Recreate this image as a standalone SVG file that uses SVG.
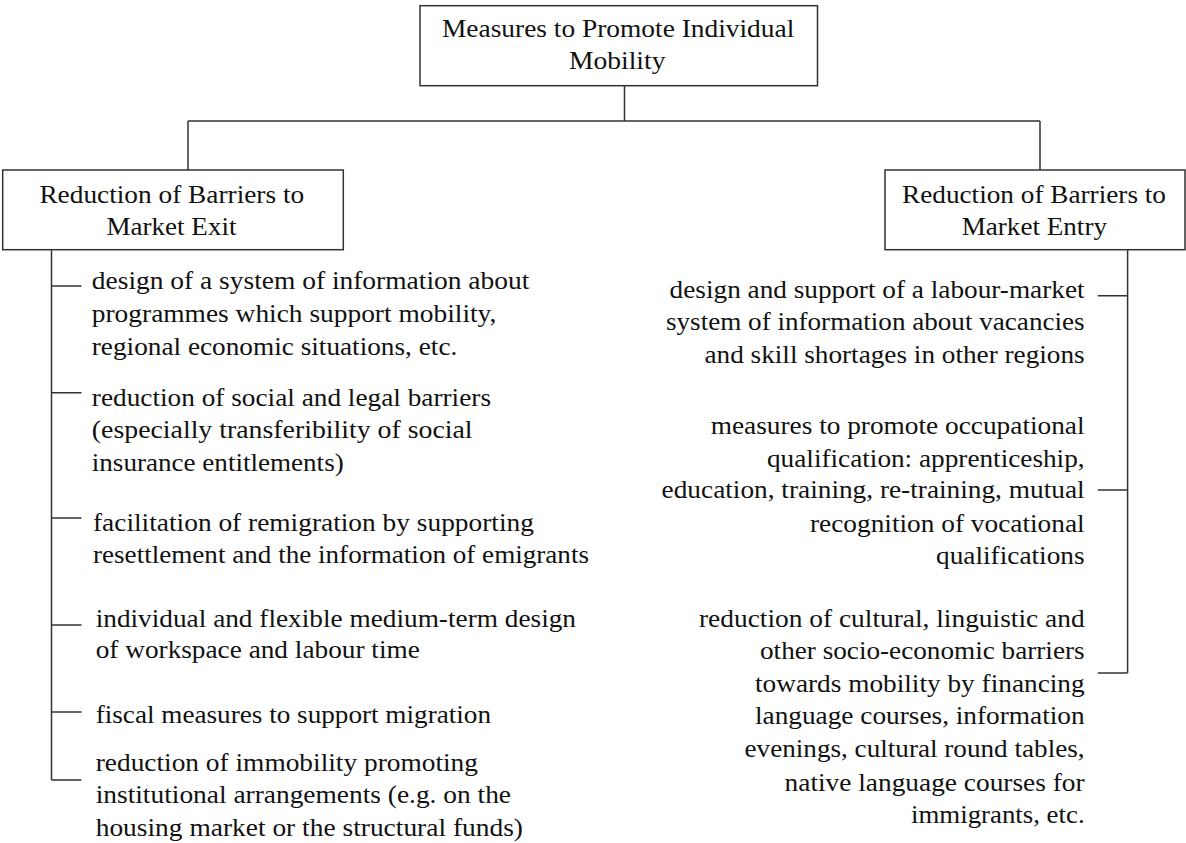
<svg xmlns="http://www.w3.org/2000/svg" width="1186" height="843" viewBox="0 0 1186 843">
<style>
.box{fill:#fff;stroke:#333;stroke-width:1.5}
.ln{fill:none;stroke:#333;stroke-width:1.5}
text{font-family:"Liberation Serif","Times New Roman",serif;font-size:26px;fill:#111}
</style>
<rect width="1186" height="843" fill="#fff"/>
<g id="connectors">
<path class="ln" d="M624.5 85.7V121M188 121H1040M188 121V170M1040 121V170"/>
<path class="ln" d="M51.5 249.7V780M51.5 286H81.5M51.5 392.7H81.5M51.5 518H81.5M51.5 625H81.5M51.5 712H81.5M51.5 780H81.5"/>
<path class="ln" d="M1127.6 249.7V673M1097.8 295.7H1127.6M1097.8 490H1127.6M1097.8 673H1127.6"/>
</g>
<g id="root">
<rect class="box" x="420" y="5.7" width="397.5" height="80"/>
<text x="442" y="37" textLength="352.3" lengthAdjust="spacingAndGlyphs">Measures to Promote Individual</text>
<text x="569" y="69" textLength="96.4" lengthAdjust="spacingAndGlyphs">Mobility</text>
</g>
<g id="exit">
<rect class="box" x="2.7" y="170" width="340.6" height="79.7"/>
<text x="39.4" y="203" textLength="264.8" lengthAdjust="spacingAndGlyphs">Reduction of Barriers to</text>
<text x="106.4" y="235" textLength="130.1" lengthAdjust="spacingAndGlyphs">Market Exit</text>
</g>
<g id="entry">
<rect class="box" x="885" y="170" width="300" height="79.7"/>
<text x="902" y="203" textLength="264" lengthAdjust="spacingAndGlyphs">Reduction of Barriers to</text>
<text x="961.7" y="235" textLength="145.3" lengthAdjust="spacingAndGlyphs">Market Entry</text>
</g>
<g id="exit-1">
<text x="91.8" y="289.3" textLength="437.5" lengthAdjust="spacingAndGlyphs">design of a system of information about</text>
<text x="91.8" y="321.7" textLength="404.6" lengthAdjust="spacingAndGlyphs">programmes which support mobility,</text>
<text x="91.8" y="355" textLength="365.5" lengthAdjust="spacingAndGlyphs">regional economic situations, etc.</text>
</g>
<g id="exit-2">
<text x="91.8" y="405.7" textLength="399.2" lengthAdjust="spacingAndGlyphs">reduction of social and legal barriers</text>
<text x="91.8" y="437.7" textLength="380.8" lengthAdjust="spacingAndGlyphs">(especially transferibility of  social</text>
<text x="91.8" y="471" textLength="251.9" lengthAdjust="spacingAndGlyphs">insurance entitlements)</text>
</g>
<g id="exit-3">
<text x="93" y="530.7" textLength="440.9" lengthAdjust="spacingAndGlyphs">facilitation of remigration  by supporting</text>
<text x="93" y="563" textLength="496" lengthAdjust="spacingAndGlyphs">resettlement and the information of emigrants</text>
</g>
<g id="exit-4">
<text x="95.7" y="626.7" textLength="480.3" lengthAdjust="spacingAndGlyphs">individual and flexible medium-term  design</text>
<text x="95.7" y="658.3" textLength="324.1" lengthAdjust="spacingAndGlyphs">of workspace  and labour time</text>
</g>
<g id="exit-5">
<text x="95.7" y="722.7" textLength="395.3" lengthAdjust="spacingAndGlyphs">fiscal measures  to support migration</text>
</g>
<g id="exit-6">
<text x="95.7" y="770.7" textLength="382.3" lengthAdjust="spacingAndGlyphs">reduction of immobility promoting</text>
<text x="95.7" y="803.3" textLength="415.3" lengthAdjust="spacingAndGlyphs">institutional arrangements  (e.g.  on the</text>
<text x="95.7" y="836" textLength="427.3" lengthAdjust="spacingAndGlyphs">housing market  or the structural  funds)</text>
</g>
<g id="entry-1">
<text x="669.6" y="298.3" textLength="415" lengthAdjust="spacingAndGlyphs">design and support of a labour-market</text>
<text x="666" y="330" textLength="418.6" lengthAdjust="spacingAndGlyphs">system of information about vacancies</text>
<text x="704.5" y="363.3" textLength="380.1" lengthAdjust="spacingAndGlyphs">and skill shortages  in other regions</text>
</g>
<g id="entry-2">
<text x="710.7" y="434" textLength="373.9" lengthAdjust="spacingAndGlyphs">measures  to promote occupational</text>
<text x="767" y="466.7" textLength="317.6" lengthAdjust="spacingAndGlyphs">qualification: apprenticeship,</text>
<text x="661.6" y="498.3" textLength="423" lengthAdjust="spacingAndGlyphs">education, training, re-training, mutual</text>
<text x="810" y="531.7" textLength="274.6" lengthAdjust="spacingAndGlyphs">recognition of vocational</text>
<text x="936" y="564" textLength="148.6" lengthAdjust="spacingAndGlyphs">qualifications</text>
</g>
<g id="entry-3">
<text x="699" y="626.7" textLength="385.6" lengthAdjust="spacingAndGlyphs">reduction of cultural, linguistic and</text>
<text x="760" y="659" textLength="324.6" lengthAdjust="spacingAndGlyphs">other socio-economic barriers</text>
<text x="755" y="691.7" textLength="329.6" lengthAdjust="spacingAndGlyphs">towards mobility by financing</text>
<text x="755" y="724" textLength="329.6" lengthAdjust="spacingAndGlyphs">language courses, information</text>
<text x="744.5" y="757.3" textLength="340.1" lengthAdjust="spacingAndGlyphs">evenings, cultural round tables,</text>
<text x="784.6" y="790.7" textLength="300" lengthAdjust="spacingAndGlyphs">native language courses for</text>
<text x="911" y="823.3" textLength="173.6" lengthAdjust="spacingAndGlyphs">immigrants, etc.</text>
</g>
</svg>
